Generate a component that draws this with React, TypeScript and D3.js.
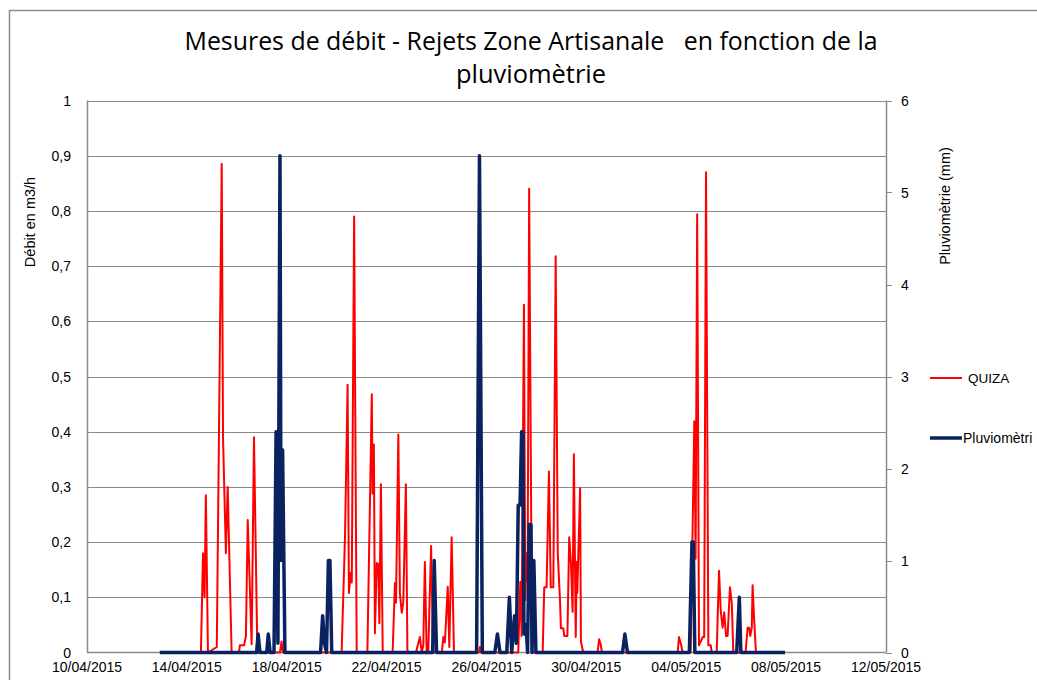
import React from "react";
import * as d3 from "d3";

// ---- Data ----
const quizaTimes = [
  "2015-04-12T22:00", "2015-04-14T13:30", "2015-04-14T15:30", "2015-04-14T17:00", "2015-04-14T18:15", "2015-04-14T20:15",
  "2015-04-15T04:45", "2015-04-15T09:30", "2015-04-15T10:45", "2015-04-15T13:30", "2015-04-15T15:15", "2015-04-15T19:00",
  "2015-04-16T02:00", "2015-04-16T03:00", "2015-04-16T07:00", "2015-04-16T08:45", "2015-04-16T10:30", "2015-04-16T14:15",
  "2015-04-16T16:30", "2015-04-16T19:45",
  "2015-04-17T17:30", "2015-04-17T19:00", "2015-04-17T20:15",
  "2015-04-20T04:45", "2015-04-20T08:00", "2015-04-20T10:30", "2015-04-20T11:45", "2015-04-20T13:30", "2015-04-20T14:30",
  "2015-04-20T16:45", "2015-04-20T19:15",
  "2015-04-21T05:30", "2015-04-21T09:45", "2015-04-21T10:30", "2015-04-21T11:45", "2015-04-21T12:45", "2015-04-21T14:30",
  "2015-04-21T16:00", "2015-04-21T17:00", "2015-04-21T18:30", "2015-04-21T20:15",
  "2015-04-22T05:45", "2015-04-22T08:00", "2015-04-22T09:00", "2015-04-22T11:15", "2015-04-22T12:45", "2015-04-22T14:30",
  "2015-04-22T16:00", "2015-04-22T18:30", "2015-04-22T20:00",
  "2015-04-23T04:15", "2015-04-23T05:30", "2015-04-23T08:00", "2015-04-23T09:45", "2015-04-23T11:15", "2015-04-23T12:45",
  "2015-04-23T14:30", "2015-04-23T16:00", "2015-04-23T18:45", "2015-04-23T20:45",
  "2015-04-24T05:00", "2015-04-24T06:30", "2015-04-24T08:00", "2015-04-24T10:45", "2015-04-24T12:15", "2015-04-24T14:30",
  "2015-04-24T16:45",
  "2015-04-25T16:45", "2015-04-25T17:45", "2015-04-25T18:45",
  "2015-04-27T06:30", "2015-04-27T08:30", "2015-04-27T09:45", "2015-04-27T12:00", "2015-04-27T13:15", "2015-04-27T14:30",
  "2015-04-27T15:30", "2015-04-27T17:00", "2015-04-27T19:45",
  "2015-04-28T06:00", "2015-04-28T07:30", "2015-04-28T09:45", "2015-04-28T12:00", "2015-04-28T13:45", "2015-04-28T16:15",
  "2015-04-28T18:30", "2015-04-28T20:30", "2015-04-28T22:45", "2015-04-28T23:30",
  "2015-04-29T01:45", "2015-04-29T02:45", "2015-04-29T05:45", "2015-04-29T07:30", "2015-04-29T09:15", "2015-04-29T10:45",
  "2015-04-29T12:00", "2015-04-29T13:45", "2015-04-29T14:45", "2015-04-29T15:15", "2015-04-29T18:00", "2015-04-29T18:45",
  "2015-04-29T21:00",
  "2015-04-30T10:45", "2015-04-30T12:15", "2015-04-30T13:45", "2015-04-30T15:00",
  "2015-05-03T15:45", "2015-05-03T17:00", "2015-05-03T19:00", "2015-05-03T20:30",
  "2015-05-04T04:15", "2015-05-04T07:45", "2015-05-04T09:00", "2015-05-04T10:30", "2015-05-04T12:15", "2015-05-04T15:45",
  "2015-05-04T17:15", "2015-05-04T19:00", "2015-05-04T21:15", "2015-05-04T23:30",
  "2015-05-05T00:30", "2015-05-05T05:15", "2015-05-05T07:30", "2015-05-05T09:15", "2015-05-05T11:00", "2015-05-05T12:30",
  "2015-05-05T14:15", "2015-05-05T15:45", "2015-05-05T18:00", "2015-05-05T19:45", "2015-05-05T21:15",
  "2015-05-06T09:00", "2015-05-06T11:00", "2015-05-06T12:30", "2015-05-06T13:30", "2015-05-06T15:00", "2015-05-06T15:45",
  "2015-05-06T17:15", "2015-05-06T19:00",
  "2015-05-07T23:00",
];
const quizaValues = [
  0, 0, 0.18, 0.1, 0.285, 0,
  0.01, 0.885, 0.39, 0.18, 0.3, 0,
  0, 0.013, 0.013, 0.03, 0.24, 0.015,
  0.39, 0,
  0, 0.02, 0,
  0, 0.21, 0.485, 0.108, 0.144, 0.127,
  0.79, 0,
  0, 0.468, 0.288, 0.377, 0.035, 0.162,
  0.16, 0.053, 0.305, 0,
  0, 0.126, 0.09, 0.395, 0.108, 0.072,
  0.09, 0.305, 0,
  0, 0.01, 0.028, 0, 0.013, 0.164,
  0, 0, 0.193, 0,
  0, 0.028, 0.018, 0.119, 0.01, 0.209,
  0,
  0, 0.01, 0,
  0, 0.128, 0.03, 0.63, 0.095, 0.18,
  0.13, 0.84, 0,
  0, 0.118, 0.118, 0.328, 0.118, 0.118,
  0.718, 0.18, 0.09, 0.044,
  0.044, 0.03, 0.03, 0.209, 0.16, 0.074,
  0.359, 0.028, 0.164, 0.108, 0.298, 0.02,
  0,
  0, 0.024, 0.015, 0,
  0, 0.028, 0.015, 0,
  0, 0.419, 0.17, 0.794, 0.013, 0.028,
  0.028, 0.87, 0.013, 0.013,
  0, 0, 0.148, 0.073, 0.045, 0.073,
  0.03, 0.03, 0.118, 0.09, 0,
  0, 0.045, 0.045, 0.03, 0.045, 0.122,
  0.06, 0,
  0,
];

const pluvioTimes = [
  "2015-04-12T22:00",
  "2015-04-16T19:00", "2015-04-16T20:30", "2015-04-16T22:15",
  "2015-04-17T04:45", "2015-04-17T06:15", "2015-04-17T08:00",
  "2015-04-17T11:45", "2015-04-17T13:45", "2015-04-17T15:30", "2015-04-17T17:30", "2015-04-17T18:30", "2015-04-17T20:00",
  "2015-04-17T22:15",
  "2015-04-19T08:30", "2015-04-19T10:30", "2015-04-19T12:15", "2015-04-19T14:15", "2015-04-19T16:00", "2015-04-19T17:30",
  "2015-04-19T19:15",
  "2015-04-23T20:15", "2015-04-23T21:45", "2015-04-24T00:00",
  "2015-04-25T14:30", "2015-04-25T17:15", "2015-04-25T20:00",
  "2015-04-26T08:00", "2015-04-26T10:30", "2015-04-26T13:00",
  "2015-04-26T19:30", "2015-04-26T22:00", "2015-04-27T00:15",
  "2015-04-27T03:00", "2015-04-27T04:45", "2015-04-27T06:30", "2015-04-27T08:15", "2015-04-27T09:45", "2015-04-27T11:00",
  "2015-04-27T12:00", "2015-04-27T14:00", "2015-04-27T15:30", "2015-04-27T17:00", "2015-04-27T18:45", "2015-04-27T19:45",
  "2015-04-27T21:30", "2015-04-27T23:30",
  "2015-05-01T10:45", "2015-05-01T13:00", "2015-05-01T15:30",
  "2015-05-04T03:00", "2015-05-04T05:30", "2015-05-04T06:45", "2015-05-04T08:15",
  "2015-05-06T00:30", "2015-05-06T03:00", "2015-05-06T04:30",
  "2015-05-07T23:00",
];
const pluvioValues = [
  0,
  0, 0.2, 0,
  0, 0.2, 0,
  0, 2.4, 0.1, 5.4, 1.0, 2.2,
  0,
  0, 0.4, 0.1, 0, 1.0, 1.0,
  0,
  0, 1.0, 0,
  0, 5.4, 0,
  0, 0.2, 0,
  0, 0.6, 0,
  0.4, 0.1, 1.6, 1.6, 2.4, 2.4,
  0.2, 0.3, 0, 1.39, 1.39, 0,
  1.0, 0,
  0, 0.2, 0,
  0, 1.2, 1.2, 0,
  0, 0.6, 0,
  0,
];

const titleLines = ["Mesures de débit - Rejets Zone Artisanale   en fonction de la", "pluviomètrie"];
const leftAxisTitle = "Débit en m3/h";
const rightAxisTitle = "Pluviomètrie (mm)";
const seriesNames = ["QUIZA", "Pluviomètri"];
const xDomain = ["2015-04-10T00:00", "2015-05-12T00:00"];
const dateTickStepDays = 4;

// ---- Layout ----
const W = 1037;
const H = 680;
const M = { left: 87, right: 886, top: 100.5, bottom: 652.5 };
const FONT = "'Liberation Sans', Arial, sans-serif";
const TITLE_FONT = "'Liberation Sans Narrow', 'Open Sans', Arial, sans-serif";
const RED = "#ff0000";
const NAVY = "#0b2260";
const GRID = "#8a8a8a";

const parse = d3.timeParse("%Y-%m-%dT%H:%M");

export default function App() {
  const x = d3
    .scaleTime()
    .domain(xDomain.map((s) => parse(s) as Date))
    .range([M.left, M.right]);
  const yL = d3.scaleLinear().domain([0, 1]).range([M.bottom, M.top]);
  const yR = d3.scaleLinear().domain([0, 6]).range([M.bottom, M.top]);

  const quiza = quizaTimes.map((t, i) => ({ t: parse(t) as Date, v: quizaValues[i] }));
  const pluvio = pluvioTimes.map((t, i) => ({ t: parse(t) as Date, v: pluvioValues[i] }));

  const lineL = d3
    .line<{ t: Date; v: number }>()
    .x((d) => x(d.t))
    .y((d) => yL(d.v));
  const lineR = d3
    .line<{ t: Date; v: number }>()
    .x((d) => x(d.t))
    .y((d) => yR(d.v));

  const leftTicks = d3.range(0, 11).map((i) => i / 10);
  const rightTicks = yR.ticks(6);
  const [d0, d1] = x.domain();
  const nDays = d3.timeDay.count(d0, d1);
  const dateTicks = d3.range(0, nDays + 1, dateTickStepDays).map((i) => d3.timeDay.offset(d0, i));
  const fmtDate = d3.timeFormat("%d/%m/%Y");
  const fmtL = (v: number) => (v === 0 ? "0" : v === 1 ? "1" : d3.format(".1f")(v).replace(".", ","));

  return (
    <svg
      width={W}
      height={H}
      style={{ position: "fixed", left: 0, top: 0, background: "#fff" }}
      fontFamily={FONT}
    >
      <rect x={0} y={0} width={W} height={H} fill="#fff" />
      {/* chart border */}
      <rect x={9.5} y={10.5} width={W + 20} height={H + 20} fill="none" stroke="#8c8c8c" strokeWidth={1.5} />

      {/* title */}
      <text x={531} y={50} textAnchor="middle" fontSize={26} fill="#000" fontFamily={TITLE_FONT} textLength={693} lengthAdjust="spacingAndGlyphs" style={{ whiteSpace: "pre" }}>
        {titleLines[0]}
      </text>
      <text x={531} y={83} textAnchor="middle" fontSize={26} fill="#000" fontFamily={TITLE_FONT} textLength={150} lengthAdjust="spacingAndGlyphs">
        {titleLines[1]}
      </text>

      {/* gridlines */}
      {leftTicks.filter((v) => v > 0).map((v) => (
        <line key={"g" + v} x1={M.left} x2={M.right} y1={Math.round(yL(v)) + 0.5} y2={Math.round(yL(v)) + 0.5} stroke={GRID} strokeWidth={1} />
      ))}

      {/* axes */}
      <line x1={M.left + 0.5} x2={M.left + 0.5} y1={M.top} y2={M.bottom} stroke={GRID} strokeWidth={1.5} />
      <line x1={M.right + 0.5} x2={M.right + 0.5} y1={M.top} y2={M.bottom} stroke={GRID} strokeWidth={1.5} />
      <line x1={M.left} x2={M.right} y1={M.bottom} y2={M.bottom} stroke={GRID} strokeWidth={1.5} />
      {rightTicks.map((v) => (
        <line key={"rt" + v} x1={M.right} x2={M.right + 6} y1={Math.round(yR(v)) + 0.5} y2={Math.round(yR(v)) + 0.5} stroke={GRID} strokeWidth={1} />
      ))}

      {/* left tick labels */}
      {leftTicks.map((v) => (
        <text key={"l" + v} x={71} y={yL(v) + 5} textAnchor="end" fontSize={14} fill="#000">
          {fmtL(v)}
        </text>
      ))}
      {/* right tick labels */}
      {rightTicks.map((v) => (
        <text key={"r" + v} x={901} y={yR(v) + 5} textAnchor="start" fontSize={14} fill="#000">
          {String(v)}
        </text>
      ))}
      {/* date labels */}
      {dateTicks.map((d) => (
        <text key={"d" + d.getTime()} x={x(d)} y={672} textAnchor="middle" fontSize={14} fill="#000">
          {fmtDate(d)}
        </text>
      ))}

      {/* axis titles */}
      <text transform="translate(35,222) rotate(-90)" textAnchor="middle" fontSize={14.5} fill="#000">
        {leftAxisTitle}
      </text>
      <text transform="translate(950,206) rotate(-90)" textAnchor="middle" fontSize={14.5} fill="#000">
        {rightAxisTitle}
      </text>

      {/* series */}
      <path d={lineL(quiza) ?? ""} fill="none" stroke={RED} strokeWidth={2} strokeLinejoin="round" />
      <path d={lineR(pluvio) ?? ""} fill="none" stroke={NAVY} strokeWidth={3.5} strokeLinejoin="round" />

      {/* legend */}
      <line x1={930} x2={962} y1={378} y2={378} stroke={RED} strokeWidth={2} />
      <text x={968} y={383} fontSize={13.5} fill="#000">{seriesNames[0]}</text>
      <line x1={930} x2={962} y1={438} y2={438} stroke={NAVY} strokeWidth={3.5} />
      <text x={963} y={443} fontSize={14} fill="#000">{seriesNames[1]}</text>
    </svg>
  );
}
